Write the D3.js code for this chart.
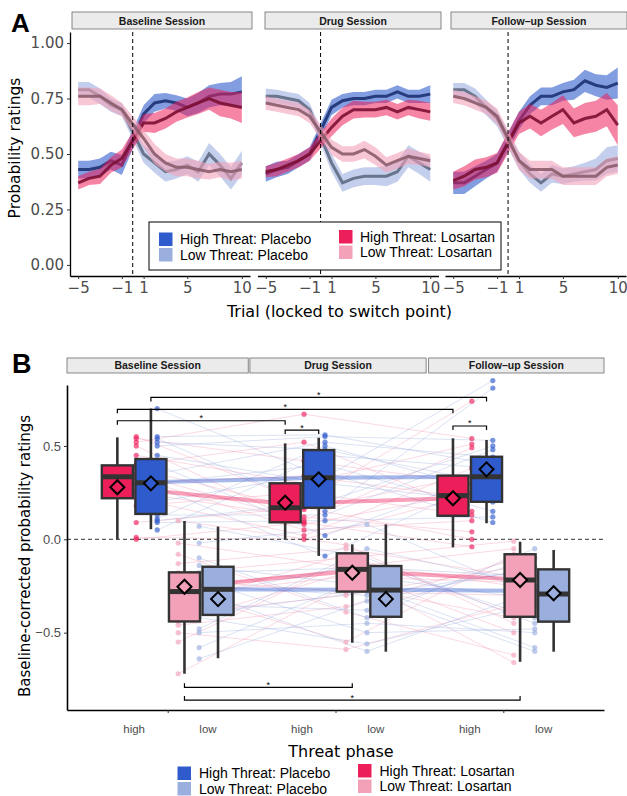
<!DOCTYPE html>
<html>
<head>
<meta charset="utf-8">
<script src="https://cdn.jsdelivr.net/npm/d3@7"></script>
<style>
  body { margin: 0; background: #fff; }
</style>
</head>
<body>
<div id="chart"></div>
<script>
// ---- data ----
const trials = [-5, -4, -3, -2, -1, 1, 2, 3, 4, 5, 6, 7, 8, 9, 10];
const sessions = ["Baseline Session", "Drug Session", "Follow-up Session"];
const groupLabels = ["High Threat: Placebo", "Low Threat: Placebo", "High Threat: Losartan", "Low Threat: Losartan"];

// panel A: mean probability rating per trial
const baseHP = [0.43, 0.43, 0.44, 0.47, 0.45, 0.68, 0.73, 0.74, 0.73, 0.71, 0.73, 0.76, 0.77, 0.77, 0.78];
const baseLP = [0.79, 0.79, 0.76, 0.72, 0.70, 0.50, 0.46, 0.42, 0.43, 0.45, 0.42, 0.50, 0.45, 0.39, 0.46];
const baseHL = [0.37, 0.39, 0.40, 0.45, 0.48, 0.64, 0.64, 0.66, 0.69, 0.71, 0.73, 0.75, 0.73, 0.72, 0.71];
const baseLL = [0.76, 0.76, 0.76, 0.73, 0.70, 0.57, 0.50, 0.46, 0.44, 0.44, 0.43, 0.42, 0.43, 0.42, 0.43];

const drugHP = [0.41, 0.43, 0.44, 0.47, 0.50, 0.71, 0.74, 0.75, 0.75, 0.76, 0.76, 0.78, 0.76, 0.76, 0.77];
const drugLP = [0.76, 0.76, 0.75, 0.74, 0.70, 0.46, 0.37, 0.39, 0.40, 0.40, 0.40, 0.42, 0.49, 0.46, 0.43];
const drugHL = [0.42, 0.43, 0.45, 0.47, 0.50, 0.62, 0.67, 0.70, 0.70, 0.70, 0.71, 0.69, 0.71, 0.70, 0.69];
const drugLL = [0.73, 0.72, 0.71, 0.70, 0.67, 0.53, 0.50, 0.50, 0.52, 0.49, 0.45, 0.47, 0.49, 0.48, 0.47];

const followHP = [0.37, 0.37, 0.40, 0.43, 0.46, 0.65, 0.72, 0.76, 0.76, 0.78, 0.79, 0.83, 0.81, 0.80, 0.82];
const followLP = [0.79, 0.79, 0.76, 0.71, 0.66, 0.47, 0.41, 0.37, 0.41, 0.40, 0.41, 0.42, 0.43, 0.47, 0.48];
const followHL = [0.38, 0.40, 0.43, 0.44, 0.46, 0.64, 0.67, 0.64, 0.67, 0.70, 0.64, 0.66, 0.67, 0.70, 0.63];
const followLL = [0.76, 0.75, 0.73, 0.71, 0.67, 0.47, 0.43, 0.43, 0.43, 0.40, 0.40, 0.40, 0.40, 0.44, 0.45];

// panel A: ribbon half widths (standard error)
const baseHPse = [0.04, 0.04, 0.04, 0.04, 0.045, 0.04, 0.04, 0.035, 0.035, 0.04, 0.045, 0.05, 0.05, 0.055, 0.07];
const baseLPse = [0.035, 0.035, 0.035, 0.03, 0.03, 0.04, 0.045, 0.045, 0.04, 0.04, 0.045, 0.05, 0.05, 0.05, 0.055];
const baseHLse = [0.03, 0.03, 0.035, 0.035, 0.04, 0.04, 0.045, 0.045, 0.045, 0.045, 0.05, 0.05, 0.06, 0.06, 0.07];
const baseLLse = [0.04, 0.04, 0.035, 0.035, 0.03, 0.04, 0.045, 0.04, 0.04, 0.04, 0.04, 0.035, 0.035, 0.04, 0.04];

const drugHPse = [0.035, 0.035, 0.03, 0.03, 0.03, 0.035, 0.03, 0.03, 0.03, 0.03, 0.03, 0.03, 0.03, 0.03, 0.04];
const drugLPse = [0.035, 0.03, 0.03, 0.03, 0.03, 0.04, 0.04, 0.04, 0.04, 0.04, 0.045, 0.045, 0.05, 0.05, 0.055];
const drugHLse = [0.025, 0.03, 0.03, 0.03, 0.03, 0.04, 0.04, 0.04, 0.035, 0.035, 0.035, 0.035, 0.035, 0.04, 0.04];
const drugLLse = [0.03, 0.03, 0.03, 0.03, 0.03, 0.035, 0.035, 0.035, 0.04, 0.04, 0.035, 0.035, 0.035, 0.03, 0.03];

const followHPse = [0.05, 0.05, 0.045, 0.04, 0.04, 0.04, 0.04, 0.04, 0.04, 0.04, 0.045, 0.05, 0.05, 0.055, 0.07];
const followLPse = [0.03, 0.03, 0.035, 0.035, 0.035, 0.04, 0.04, 0.04, 0.04, 0.035, 0.035, 0.04, 0.05, 0.06, 0.06];
const followHLse = [0.04, 0.045, 0.045, 0.045, 0.045, 0.05, 0.055, 0.06, 0.06, 0.065, 0.065, 0.07, 0.07, 0.075, 0.09];
const followLLse = [0.03, 0.03, 0.03, 0.03, 0.035, 0.04, 0.04, 0.04, 0.04, 0.04, 0.04, 0.04, 0.04, 0.04, 0.04];

// panel B: box stats per session -> [whisker low, q1, median, q3, whisker high, mean]
const boxHL = [[0.00, 0.22, 0.335, 0.396, 0.546, 0.279], [0.00, 0.091, 0.169, 0.30, 0.514, 0.196], [-0.043, 0.126, 0.234, 0.341, 0.541, 0.22]];
const boxHP = [[0.054, 0.136, 0.303, 0.43, 0.70, 0.30], [-0.089, 0.169, 0.33, 0.478, 0.544, 0.321], [0.086, 0.201, 0.335, 0.442, 0.532, 0.375]];
const boxLL = [[-0.72, -0.44, -0.28, -0.177, 0.098, -0.254], [-0.554, -0.28, -0.161, -0.075, -0.027, -0.179], [-0.656, -0.415, -0.218, -0.08, -0.013, -0.218]];
const boxLP = [[-0.637, -0.405, -0.268, -0.147, 0.068, -0.32], [-0.602, -0.415, -0.272, -0.143, 0.08, -0.32], [-0.602, -0.441, -0.293, -0.161, -0.057, -0.289]];

// panel B: thick group lines across sessions
const trendHL = [0.28, 0.19, 0.22];
const trendHP = [0.305, 0.33, 0.335];
const trendLL = [-0.255, -0.17, -0.215];
const trendLP = [-0.268, -0.27, -0.278];

// panel B: individual subjects [baseline, drug, follow-up]
const losHigh = [[0.55, 0.20, 0.74], [0.54, 0.42, 0.30], [0.52, 0.67, 0.54], [0.50, 0.08, 0.25], [0.45, 0.30, 0.51], [0.40, 0.52, 0.15],
  [0.38, 0.16, 0.34], [0.35, 0.10, 0.49], [0.33, 0.05, 0.10], [0.30, 0.34, 0.22], [0.25, 0.12, 0.04], [0.22, 0.02, 0.38],
  [0.18, 0.25, 0.13], [0.09, 0.17, 0.00], [0.01, 0.00, 0.24], [0.00, 0.09, -0.04]];
const losLow = [[0.10, -0.03, -0.45], [-0.02, -0.15, -0.05], [-0.08, -0.39, -0.62], [-0.13, -0.05, -0.20], [-0.18, -0.10, -0.01], [-0.22, -0.28, -0.30],
  [-0.26, -0.16, -0.50], [-0.28, -0.55, -0.08], [-0.30, -0.20, -0.23], [-0.35, -0.08, -0.40], [-0.40, -0.30, -0.15], [-0.44, -0.18, -0.66],
  [-0.46, -0.36, -0.11], [-0.50, -0.59, -0.35], [-0.55, -0.12, -0.25], [-0.72, -0.25, -0.42]];
const plaHigh = [[0.70, 0.33, 0.85], [0.55, 0.56, 0.40], [0.54, 0.15, 0.81], [0.52, 0.48, 0.30], [0.50, 0.55, 0.53], [0.45, 0.30, 0.20],
  [0.40, 0.02, 0.35], [0.35, 0.52, 0.44], [0.30, 0.40, 0.15], [0.28, -0.09, 0.33], [0.20, 0.36, 0.09], [0.13, 0.13, 0.48],
  [0.11, 0.50, 0.25], [0.10, 0.20, 0.50], [0.09, 0.10, 0.12], [0.05, 0.45, 0.38]];
const plaLow = [[0.07, -0.10, -0.45], [-0.02, 0.08, -0.30], [-0.10, -0.42, -0.05], [-0.14, -0.25, -0.58], [-0.18, -0.15, -0.20], [-0.22, -0.50, -0.48],
  [-0.25, -0.30, -0.16], [-0.28, -0.60, -0.28], [-0.30, -0.13, -0.42], [-0.35, -0.38, -0.10], [-0.40, -0.28, -0.60], [-0.42, -0.56, -0.35],
  [-0.48, -0.05, -0.25], [-0.50, -0.45, -0.50], [-0.58, -0.20, -0.32], [-0.64, -0.33, -0.15]];

// significance brackets: [session, group] -> [session, group]
const brackets = [
  { from: [0, "HP"], to: [2, "HP"], y: 0.76, up: false },
  { from: [0, "HL"], to: [2, "HL"], y: 0.696, up: false },
  { from: [0, "HL"], to: [1, "HL"], y: 0.635, up: false },
  { from: [1, "HL"], to: [1, "HP"], y: 0.585, up: false },
  { from: [2, "HL"], to: [2, "HP"], y: 0.607, up: false },
  { from: [0, "LL"], to: [1, "LL"], y: -0.793, up: true },
  { from: [0, "LL"], to: [2, "LL"], y: -0.861, up: true }
];

// ---- drawing ----
const width = 627;
const height = 796;
const sans = "'Liberation Sans', Arial, sans-serif";
const dejavu = "'DejaVu Sans', sans-serif";

const colors = { HP: "#2f5bcc", LP: "#9bafdf", HL: "#ed1f5b", LL: "#f3a1b9" };
const lineColors = { HP: "#1c3272", LP: "#5e6a82", HL: "#7c0f33", LL: "#8b5c6c" };

const svg = d3.select("#chart")
  .append("svg")
  .attr("width", width)
  .attr("height", height);

function styleAxis(g, font, size) {
  g.select(".domain").attr("stroke", "#000").attr("stroke-width", 1.3);
  g.selectAll(".tick line").attr("stroke", "#333").attr("stroke-width", 1);
  g.selectAll(".tick text")
    .attr("fill", "#4d4d4d")
    .style("font-family", font)
    .style("font-size", size + "px");
}

const fmtMinus = d => d < 0 ? "\u2212" + Math.abs(d) : String(d);

// ===== panel A =====
const panelsA = [[70, 250], [257.5, 438.5], [445, 626]];
const stripsA = [[72, 252], [265, 441], [451, 627]];
const yA = d3.scaleLinear().domain([-0.05, 1.05]).range([276, 32]);

const meansA = [
  { HP: baseHP, LP: baseLP, HL: baseHL, LL: baseLL },
  { HP: drugHP, LP: drugLP, HL: drugHL, LL: drugLL },
  { HP: followHP, LP: followLP, HL: followHL, LL: followLL }
];
const seA = [
  { HP: baseHPse, LP: baseLPse, HL: baseHLse, LL: baseLLse },
  { HP: drugHPse, LP: drugLPse, HL: drugHLse, LL: drugLLse },
  { HP: followHPse, LP: followLPse, HL: followHLse, LL: followLLse }
];
const fillOp = { HP: 0.6, LP: 0.6, HL: 0.55, LL: 0.6 };

sessions.forEach(function(s, i) {
  const xA = d3.scaleLinear().domain([-5.75, 10.75]).range(panelsA[i]);
  const g = svg.append("g");

  // strip on top
  g.append("rect")
    .attr("x", stripsA[i][0]).attr("y", 12)
    .attr("width", stripsA[i][1] - stripsA[i][0]).attr("height", 17)
    .attr("fill", "#ebebeb").attr("stroke", "#6b6b6b").attr("stroke-width", 0.8);
  g.append("text")
    .attr("x", (stripsA[i][0] + stripsA[i][1]) / 2).attr("y", 24.5)
    .attr("text-anchor", "middle")
    .style("font-family", sans).style("font-size", "10.5px").style("font-weight", "bold")
    .attr("fill", "#1a1a1a")
    .text(s.replace("-", "\u2013"));

  ["HP", "LP", "HL", "LL"].forEach(function(k) {
    const pts = trials.map((t, j) => ({ t: t, m: meansA[i][k][j], se: seA[i][k][j] }));
    const area = d3.area()
      .x(d => xA(d.t))
      .y0(d => yA(d.m - d.se))
      .y1(d => yA(d.m + d.se));
    const line = d3.line()
      .x(d => xA(d.t))
      .y(d => yA(d.m));
    g.append("path").datum(pts)
      .attr("d", area)
      .attr("fill", colors[k])
      .attr("fill-opacity", fillOp[k]);
    g.append("path").datum(pts)
      .attr("d", line)
      .attr("fill", "none")
      .attr("stroke", lineColors[k])
      .attr("stroke-opacity", 0.9)
      .attr("stroke-width", 3);
  });

  // switch point
  g.append("line")
    .attr("x1", xA(0)).attr("x2", xA(0))
    .attr("y1", 32).attr("y2", 276)
    .attr("stroke", "#000").attr("stroke-width", 1)
    .attr("stroke-dasharray", "4,3");

  const xAxis = g.append("g")
    .attr("transform", "translate(0,276)")
    .call(d3.axisBottom(xA).tickValues([-5, -1, 1, 5, 10]).tickFormat(fmtMinus).tickSize(3).tickSizeOuter(0));
  styleAxis(xAxis, dejavu, 15);

  if (i === 0) {
    const yAxis = g.append("g")
      .attr("transform", "translate(70,0)")
      .call(d3.axisLeft(yA).tickValues([0, 0.25, 0.5, 0.75, 1]).tickFormat(d3.format(".2f")).tickSize(3).tickSizeOuter(0));
    styleAxis(yAxis, dejavu, 15);
  }
});

svg.append("text")
  .attr("transform", "translate(20,148) rotate(-90)")
  .attr("text-anchor", "middle")
  .style("font-family", dejavu).style("font-size", "15.5px")
  .text("Probability ratings");

svg.append("text")
  .attr("x", 339.5).attr("y", 317)
  .attr("text-anchor", "middle")
  .style("font-family", dejavu).style("font-size", "16px")
  .text("Trial (locked to switch point)");

svg.append("text")
  .attr("x", 11).attr("y", 32)
  .style("font-family", sans).style("font-size", "26px").style("font-weight", "bold")
  .text("A");

// legend inside panel A
const legA = svg.append("g");
legA.append("rect")
  .attr("x", 149).attr("y", 222).attr("width", 352).attr("height", 48)
  .attr("fill", "#fff").attr("stroke", "#000").attr("stroke-width", 1);

const legendItems = [
  { k: "HP", label: groupLabels[0], x: 159, y: 232.5 },
  { k: "LP", label: groupLabels[1], x: 159, y: 248 },
  { k: "HL", label: groupLabels[2], x: 339, y: 230 },
  { k: "LL", label: groupLabels[3], x: 339, y: 245.5 }
];
legendItems.forEach(function(d) {
  legA.append("rect")
    .attr("x", d.x).attr("y", d.y).attr("width", 13.5).attr("height", 13.5)
    .attr("fill", colors[d.k]);
  legA.append("text")
    .attr("x", d.x + 21).attr("y", d.y + 11.5)
    .style("font-family", sans).style("font-size", "14px")
    .text(d.label);
});

// ===== panel B =====
const xB = d3.scaleLinear().domain([0.4, 3.6]).range([67, 604]);
const yB = d3.scaleLinear().domain([-0.9143, 0.8265]).range([710, 385]);

const boxOff = { HL: -0.3, HP: -0.1, LL: 0.1, LP: 0.3 };
const ptOff = { HL: -0.1875, HP: -0.0625, LL: 0.0625, LP: 0.1875 };
const boxes = { HL: boxHL, HP: boxHP, LL: boxLL, LP: boxLP };
const trends = { HL: trendHL, HP: trendHP, LL: trendLL, LP: trendLP };
const subjects = { HL: losHigh, LL: losLow, HP: plaHigh, LP: plaLow };

const gB = svg.append("g");

// strips above panel B
const stripsB = [[0.4, 1.48], [1.49, 2.54], [2.555, 3.6]];
sessions.forEach(function(s, i) {
  const x0 = xB(stripsB[i][0]), x1 = xB(stripsB[i][1]);
  gB.append("rect")
    .attr("x", x0).attr("y", 358).attr("width", x1 - x0).attr("height", 15)
    .attr("fill", "#ebebeb").attr("stroke", "#6b6b6b").attr("stroke-width", 0.8);
  gB.append("text")
    .attr("x", (x0 + x1) / 2).attr("y", 369)
    .attr("text-anchor", "middle")
    .style("font-family", sans).style("font-size", "10.5px").style("font-weight", "bold")
    .attr("fill", "#1a1a1a")
    .text(s.replace("-", "\u2013"));
});

// individual subject lines
const subjLine = d3.line().x(d => xB(d.x)).y(d => yB(d.v));
["HL", "LL", "HP", "LP"].forEach(function(k) {
  const isLos = k === "HL" || k === "LL";
  subjects[k].forEach(function(row) {
    gB.append("path")
      .datum(row.map((v, s) => ({ x: s + 1 + ptOff[k], v: v })))
      .attr("d", subjLine)
      .attr("fill", "none")
      .attr("stroke", isLos ? colors.LL : colors.LP)
      .attr("stroke-opacity", isLos ? 0.45 : 0.4)
      .attr("stroke-width", 0.9);
  });
});

// zero line
gB.append("line")
  .attr("x1", xB(0.4)).attr("x2", xB(3.6))
  .attr("y1", yB(0)).attr("y2", yB(0))
  .attr("stroke", "#333").attr("stroke-width", 1)
  .attr("stroke-dasharray", "4,3");

// individual points
["HL", "HP", "LL", "LP"].forEach(function(k) {
  subjects[k].forEach(function(row) {
    row.forEach(function(v, s) {
      gB.append("circle")
        .attr("cx", xB(s + 1 + ptOff[k])).attr("cy", yB(v))
        .attr("r", 2.6)
        .attr("fill", colors[k])
        .attr("fill-opacity", 0.65);
    });
  });
});

// thick group lines
const trendLine = d3.line().x(d => xB(d.x)).y(d => yB(d.v));
["HL", "LL", "HP", "LP"].forEach(function(k) {
  const isLos = k === "HL" || k === "LL";
  gB.append("path")
    .datum(trends[k].map((v, s) => ({ x: s + 1 + boxOff[k], v: v })))
    .attr("d", trendLine)
    .attr("fill", "none")
    .attr("stroke", isLos ? colors.HL : colors.HP)
    .attr("stroke-opacity", 0.42)
    .attr("stroke-width", 4);
});

// boxplots
const bw = xB(0.185) - xB(0);
const diamond = d3.symbol().type(d3.symbolSquare).size(98);
["HL", "HP", "LL", "LP"].forEach(function(k) {
  boxes[k].forEach(function(b, s) {
    const cx = xB(s + 1 + boxOff[k]);
    gB.append("line")
      .attr("x1", cx).attr("x2", cx).attr("y1", yB(b[0])).attr("y2", yB(b[4]))
      .attr("stroke", "#333").attr("stroke-width", 2.6);
    gB.append("rect")
      .attr("x", cx - bw / 2).attr("y", yB(b[3]))
      .attr("width", bw).attr("height", yB(b[1]) - yB(b[3]))
      .attr("fill", colors[k]).attr("stroke", "#333").attr("stroke-width", 2.4);
    gB.append("line")
      .attr("x1", cx - bw / 2).attr("x2", cx + bw / 2).attr("y1", yB(b[2])).attr("y2", yB(b[2]))
      .attr("stroke", "#333").attr("stroke-width", 5);
    gB.append("path")
      .attr("d", diamond())
      .attr("transform", "translate(" + cx + "," + yB(b[5]) + ") rotate(45)")
      .attr("fill", colors[k]).attr("stroke", "#000").attr("stroke-width", 2);
  });
});

// significance brackets
brackets.forEach(function(b) {
  const x1 = xB(b.from[0] + 1 + boxOff[b.from[1]]);
  const x2 = xB(b.to[0] + 1 + boxOff[b.to[1]]);
  const y = yB(b.y);
  const t = b.up ? -4 : 4;
  gB.append("path")
    .attr("d", "M" + x1 + "," + (y + t) + "V" + y + "H" + x2 + "V" + (y + t))
    .attr("fill", "none").attr("stroke", "#000").attr("stroke-width", 1.2);
  gB.append("text")
    .attr("x", (x1 + x2) / 2).attr("y", y + 0.5)
    .attr("text-anchor", "middle")
    .style("font-family", sans).style("font-size", "9px")
    .text("*");
});

// axes
const yAxisB = gB.append("g")
  .attr("transform", "translate(67,0)")
  .call(d3.axisLeft(yB).tickValues([-0.5, 0, 0.5])
    .tickFormat(d => d < 0 ? "\u2212" + Math.abs(d).toFixed(1) : d.toFixed(1))
    .tickSize(3).tickSizeOuter(0));
styleAxis(yAxisB, sans, 13);

const xAxisB = gB.append("g")
  .attr("transform", "translate(0,710)")
  .call(d3.axisBottom(xB).tickValues([1, 2, 3]).tickFormat("").tickSize(3).tickSizeOuter(0));
styleAxis(xAxisB, sans, 11.5);
xAxisB.select(".domain").attr("stroke-width", 1.6);
yAxisB.select(".domain").attr("stroke-width", 1.6);

[1, 2, 3].forEach(function(s) {
  gB.append("text")
    .attr("x", xB(s - 0.2)).attr("y", 733)
    .attr("text-anchor", "middle")
    .attr("fill", "#4d4d4d")
    .style("font-family", sans).style("font-size", "11.5px")
    .text("high");
  gB.append("text")
    .attr("x", xB(s + 0.24)).attr("y", 733)
    .attr("text-anchor", "middle")
    .attr("fill", "#4d4d4d")
    .style("font-family", sans).style("font-size", "11.5px")
    .text("low");
});

svg.append("text")
  .attr("transform", "translate(30,556) rotate(-90)")
  .attr("text-anchor", "middle")
  .style("font-family", dejavu).style("font-size", "15px")
  .text("Baseline-corrected probability ratings");

svg.append("text")
  .attr("x", 341).attr("y", 757)
  .attr("text-anchor", "middle")
  .style("font-family", dejavu).style("font-size", "16px")
  .text("Threat phase");

svg.append("text")
  .attr("x", 12).attr("y", 373)
  .style("font-family", sans).style("font-size", "27px").style("font-weight", "bold")
  .text("B");

// legend below panel B
const legB = svg.append("g");
const legendItemsB = [
  { k: "HP", label: groupLabels[0], x: 177.5, y: 766.5 },
  { k: "LP", label: groupLabels[1], x: 177.5, y: 782 },
  { k: "HL", label: groupLabels[2], x: 358, y: 764 },
  { k: "LL", label: groupLabels[3], x: 358, y: 779.5 }
];
legendItemsB.forEach(function(d) {
  legB.append("rect")
    .attr("x", d.x).attr("y", d.y).attr("width", 13.5).attr("height", 13.5)
    .attr("fill", colors[d.k]);
  legB.append("text")
    .attr("x", d.x + 21.5).attr("y", d.y + 11.5)
    .style("font-family", sans).style("font-size", "14px")
    .text(d.label);
});
</script>
</body>
</html>
